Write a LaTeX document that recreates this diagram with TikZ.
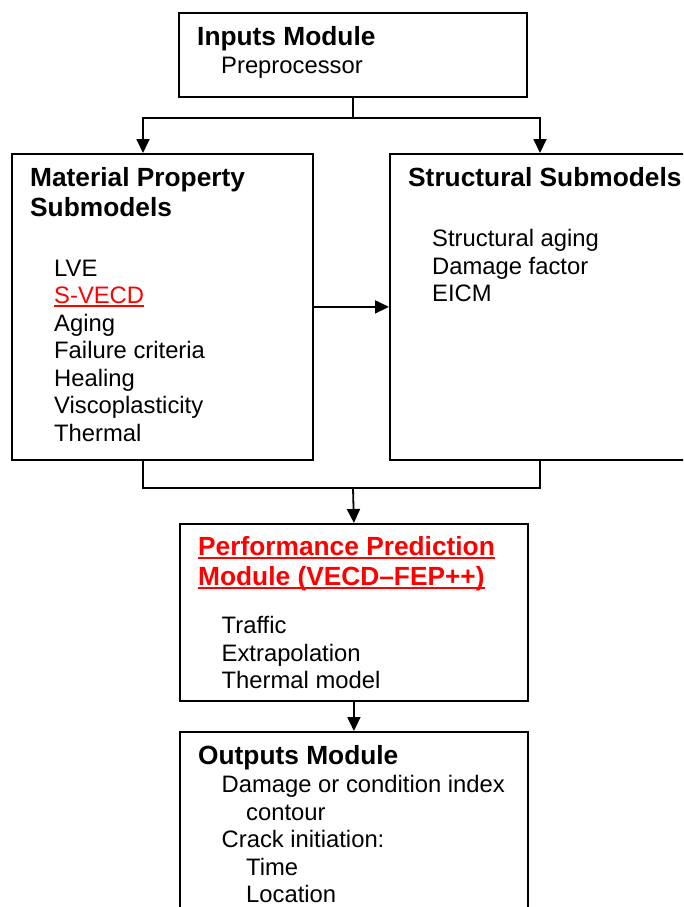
\documentclass[tikz,border=0pt]{standalone}
\usepackage{fontspec}
\setmainfont{Liberation Sans}
\usetikzlibrary{arrows.meta}
\newcommand\ulbold[1]{\setbox0\hbox{#1}\rlap{\rule[-4.4pt]{\wd0}{2.2pt}}\box0}
\newcommand\ulthin[1]{\setbox0\hbox{#1}\rlap{\rule[-3pt]{\wd0}{1.4pt}}\box0}

\begin{document}
\begin{tikzpicture}[x=1pt, y=-1pt,
    box/.style={draw, line width=1.8pt, anchor=north west, inner sep=0pt},
    head/.style={anchor=base west, inner sep=0pt, font=\fontsize{26.3}{30}\selectfont\bfseries},
    item/.style={anchor=base west, inner sep=0pt, font=\fontsize{23.8}{27.5}\selectfont},
    link/.style={line width=1.8pt},
    arr/.style={link, -{Triangle[width=13pt,length=14pt]}}]
    \useasboundingbox (0,0) rectangle (683,907);
    \clip (0,0) rectangle (683,907);
    % boxes
    \node[box, minimum width=348pt, minimum height=84pt] (inputs) at (178,12) {};
    \node[box, minimum width=301pt, minimum height=306pt] (material) at (11,153) {};
    \node[box, minimum width=302pt, minimum height=306pt] (structural) at (389,153) {};
    \node[box, minimum width=348pt, minimum height=177pt] (perf) at (179,523) {};
    \node[box, minimum width=348pt, minimum height=230pt] (outputs) at (179,731) {};
    % inputs
    \node[head] (inHead) at (197,45.5) {Inputs Module};
    \node[item] (inItem) at (221,74) {Preprocessor};
    % material property submodels
    \node[head] (matHead1) at (30,186.5) {Material Property};
    \node[head] (matHead2) at (30,216) {Submodels};
    \foreach \t [count=\i] in {LVE, {\color{red}\ulthin{S-VECD}}, Aging, Failure criteria, Healing, Viscoplasticity, Thermal}
      \node[item] (mat\i) at (54,248.5+27.5*\i) {\t};
    % structural submodels
    \node[head] (strHead) at (408,186.5) {Structural Submodels};
    \foreach \t [count=\i] in {Structural aging, Damage factor, EICM}
      \node[item] (str\i) at (432,219+27.5*\i) {\t};
    % performance prediction
    \node[head, text=red] (perfHead1) at (198,555) {\ulbold{Performance Prediction}};
    \node[head, text=red] (perfHead2) at (198,585) {\ulbold{Module (VECD–FEP++)}};
    \foreach \t [count=\i] in {Traffic, Extrapolation, Thermal model}
      \node[item] (perf\i) at (221.5,605.5+27.8*\i) {\t};
    % outputs
    \node[head] (outHead) at (198,764) {Outputs Module};
    \foreach \x/\t [count=\i] in {221.5/Damage or condition index, 246/contour, 221.5/Crack initiation:, 246/Time, 246/Location}
      \node[item] (out\i) at (\x,765+27.5*\i) {\t};
    % connectors
    \coordinate (matTop) at (143,153);
    \coordinate (strTop) at (540,153);
    \coordinate (matBot) at (143,459);
    \coordinate (strBot) at (540,459);
    \coordinate (merge) at (353,488);
    \draw[arr] (inputs.south) -- ++(0,20) -| (matTop);
    \draw[arr] (inputs.south) -- ++(0,20) -| (strTop);
    \draw[arr] (material.east) -- (structural.west);
    \draw[link] (matBot) -- ++(0,29) -| (strBot);
    \draw[arr] (merge) -- (perf.north);
    \draw[arr] (perf.south) -- (outputs.north);
\end{tikzpicture}
\end{document}
